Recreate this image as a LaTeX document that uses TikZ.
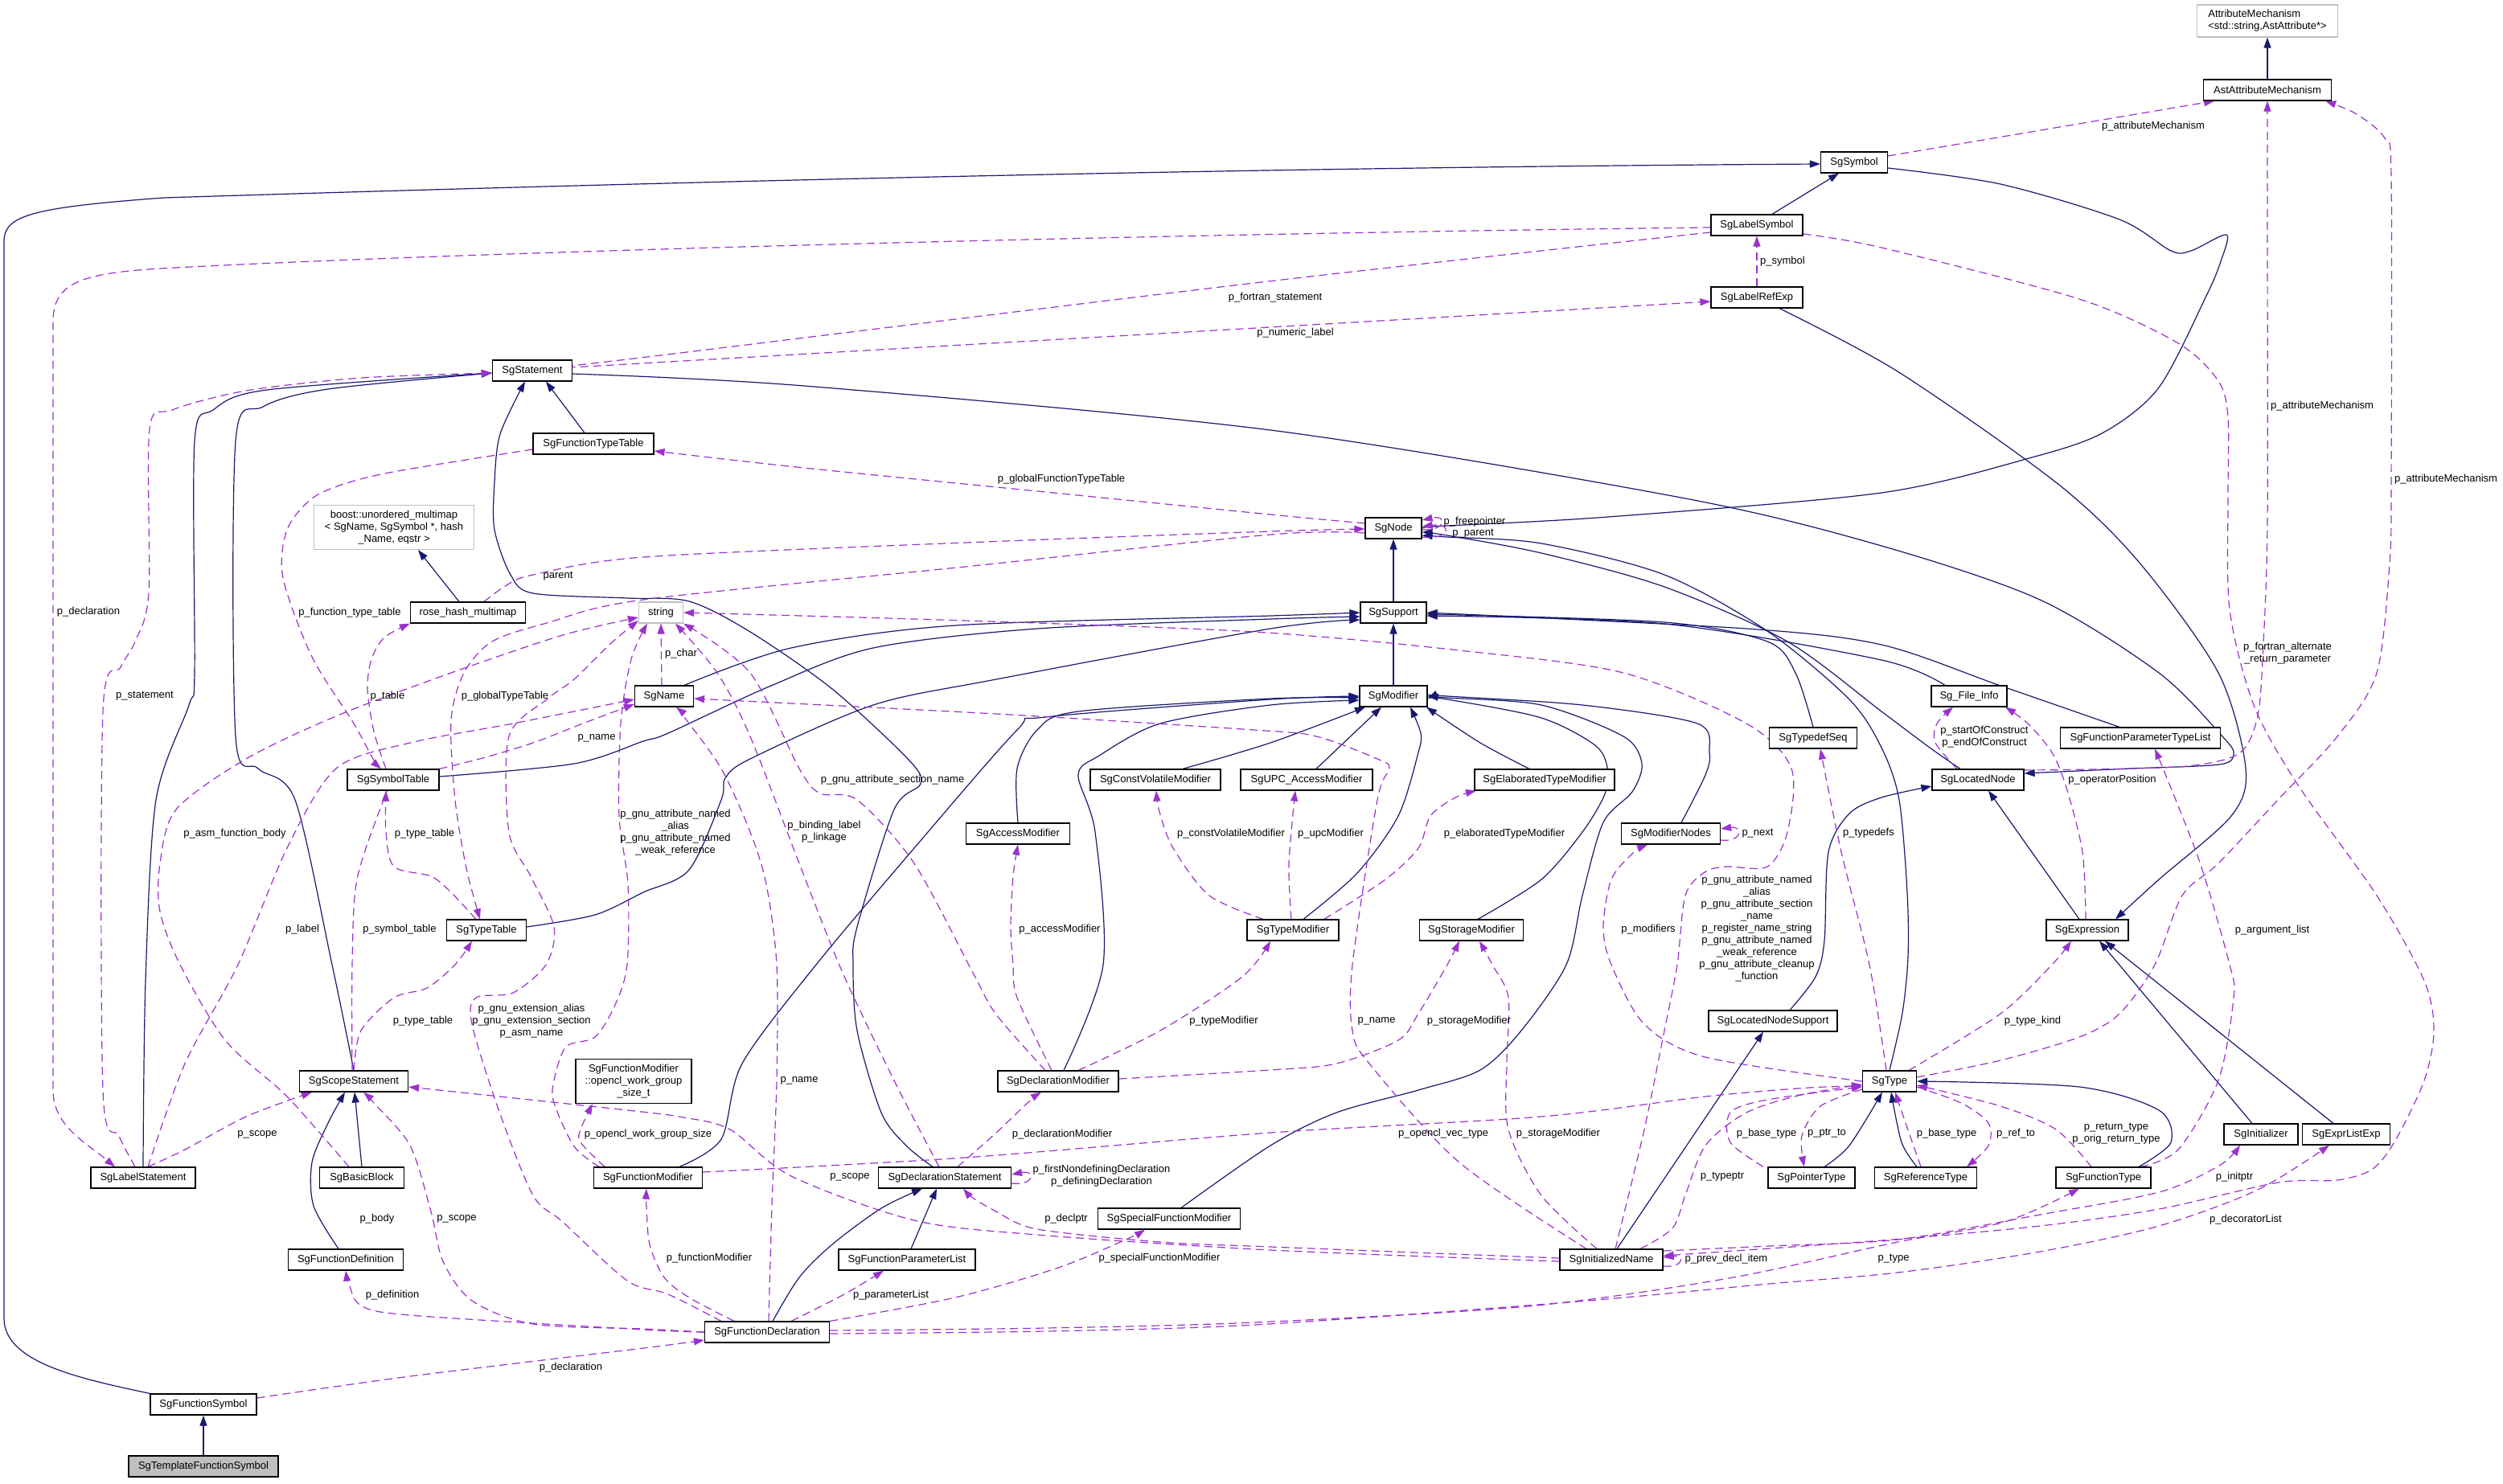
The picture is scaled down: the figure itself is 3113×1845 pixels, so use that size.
\documentclass[tikz,border=0pt]{standalone}
\usepackage{fontspec}
\setmainfont{Liberation Sans}
\usetikzlibrary{arrows.meta,calc}
\definecolor{navy}{HTML}{191970}
\definecolor{purp}{HTML}{9A32CD}
\definecolor{gbord}{HTML}{BFBFBF}
\newcommand\fs{\fontsize{13}{15}\selectfont}
\pgfdeclarelayer{bg}
\pgfsetlayers{bg,main}
\tikzset{
 cls/.style={draw=black, line width=1.2pt, fill=white, minimum height=26pt, inner sep=0pt, font=\fs, align=center},
 extcls/.style={cls, draw=gbord},
 inh/.style={draw=navy, line width=1.2pt, -{Triangle[length=13pt,width=9pt]}},
 usage/.style={draw=purp, line width=1.2pt, dash pattern=on 10pt off 6pt, -{Triangle[length=13pt,width=9pt]}},
 lbl/.style={font=\fs, inner sep=0pt, align=center, text=black},
}
\begin{document}
\begin{tikzpicture}[x=1pt,y=-1pt]
\useasboundingbox (0,0) rectangle (3113,1845);
% ---------------- classes
\node[extcls, minimum width=175pt, minimum height=40pt, align=left] (attrmech) at (2820,26) {AttributeMechanism\\<std::string,AstAttribute*>};
\node[cls, minimum width=159pt] (astattr) at (2820,112) {AstAttributeMechanism};
\node[cls, minimum width=83pt] (sgsymbol) at (2306,202) {SgSymbol};
\node[cls, minimum width=114pt] (labelsym) at (2185,280) {SgLabelSymbol};
\node[cls, minimum width=114pt] (labelref) at (2185,370) {SgLabelRefExp};
\node[cls, minimum width=99pt] (stmt) at (662,461) {SgStatement};
\node[cls, minimum width=150pt] (ftt) at (738,552) {SgFunctionTypeTable};
\node[cls, minimum width=70pt] (sgnode) at (1733,657) {SgNode};
\node[cls, minimum width=82pt] (support) at (1733,762) {SgSupport};
\node[cls, minimum width=84pt] (modifier) at (1733,866) {SgModifier};
\node[extcls, minimum width=199pt, minimum height=55pt] (boost) at (490,656) {boost::unordered\_multimap\\< SgName, SgSymbol *, hash\\\_Name, eqstr >};
\node[cls, minimum width=143pt] (rosehash) at (582,762) {rose\_hash\_multimap};
\node[extcls, minimum width=55pt] (string) at (822,762) {string};
\node[cls, minimum width=73pt] (sgname) at (826,866) {SgName};
\node[cls, minimum width=114pt] (symtab) at (489,970) {SgSymbolTable};
\node[cls, minimum width=99pt] (typetab) at (605,1157) {SgTypeTable};
\node[cls, minimum width=162pt] (cvmod) at (1437,970) {SgConstVolatileModifier};
\node[cls, minimum width=129pt] (accmod) at (1266,1037) {SgAccessModifier};
\node[cls, minimum width=164pt] (upcmod) at (1625,970) {SgUPC\_AccessModifier};
\node[cls, minimum width=114pt] (typemod) at (1608,1157) {SgTypeModifier};
\node[cls, minimum width=174pt] (elabmod) at (1921,970) {SgElaboratedTypeModifier};
\node[cls, minimum width=129pt] (stormod) at (1830,1157) {SgStorageModifier};
\node[cls, minimum width=123pt] (modnodes) at (2078,1037) {SgModifierNodes};
\node[cls, minimum width=109pt] (typedefseq) at (2255,918) {SgTypedefSeq};
\node[cls, minimum width=94pt] (fileinfo) at (2449,866) {Sg\_File\_Info};
\node[cls, minimum width=199pt] (fptl) at (2662,918) {SgFunctionParameterTypeList};
\node[cls, minimum width=114pt] (locnode) at (2460,970) {SgLocatedNode};
\node[cls, minimum width=102pt] (expr) at (2596,1157) {SgExpression};
\node[cls, minimum width=144pt, minimum height=55pt] (openclbox) at (788,1345) {SgFunctionModifier\\::opencl\_work\_group\\\_size\_t};
\node[cls, minimum width=135pt] (scopestmt) at (440,1345) {SgScopeStatement};
\node[cls, minimum width=130pt] (labelstmt) at (178,1465) {SgLabelStatement};
\node[cls, minimum width=105pt] (basicblock) at (450,1465) {SgBasicBlock};
\node[cls, minimum width=143pt] (funcdef) at (430,1567) {SgFunctionDefinition};
\node[cls, minimum width=132pt] (funcsym) at (253,1747) {SgFunctionSymbol};
\node[cls, fill=gbord, minimum width=186pt] (tmplsym) at (253,1824) {SgTemplateFunctionSymbol};
\node[cls, minimum width=135pt] (funcmod) at (806,1465) {SgFunctionModifier};
\node[cls, minimum width=150pt] (declmod) at (1316,1345) {SgDeclarationModifier};
\node[cls, minimum width=165pt] (declstmt) at (1175,1465) {SgDeclarationStatement};
\node[cls, minimum width=170pt] (fparamlist) at (1128,1567) {SgFunctionParameterList};
\node[cls, minimum width=177pt] (specfuncmod) at (1454,1516) {SgSpecialFunctionModifier};
\node[cls, minimum width=155pt] (funcdecl) at (954,1657) {SgFunctionDeclaration};
\node[cls, minimum width=160pt] (locnodesupp) at (2205,1270) {SgLocatedNodeSupport};
\node[cls, minimum width=67pt] (sgtype) at (2350,1345) {SgType};
\node[cls, minimum width=108pt] (ptrtype) at (2253,1465) {SgPointerType};
\node[cls, minimum width=127pt] (reftype) at (2395,1465) {SgReferenceType};
\node[cls, minimum width=118pt] (functype) at (2616,1465) {SgFunctionType};
\node[cls, minimum width=92pt] (initializer) at (2812,1411) {SgInitializer};
\node[cls, minimum width=109pt] (exprlist) at (2918,1411) {SgExprListExp};
\node[cls, minimum width=128pt] (initname) at (2004,1567) {SgInitializedName};

\begin{pgfonlayer}{bg}
\fill[white] (0,0) rectangle (3113,1845);
% ---------------- inheritance
\draw[inh] (astattr.north) -- (attrmech.south);
\draw[inh] ([xshift=19pt]labelsym.north) -- ([xshift=-19pt]sgsymbol.south);
\draw[inh] (funcsym.north west) .. controls (100,1715) and (5,1695) .. (5,1640) -- (5,300) .. controls (5,268) and (40,258) .. (204,246) .. controls (900,224) and (1600,208) .. ([yshift=-2pt]sgsymbol.west);
\draw[inh] (tmplsym.north) -- (funcsym.south);
\draw[inh] plot[smooth,tension=0.5] coordinates {([yshift=-7pt]sgsymbol.east) (2488,229) (2636,273) (2700,312) (2725,312) (2769,292) (2762,325) (2744,368) (2685,482) (2616,538) (2527,569) (2340,613) (2000,643) (1800,654) ([yshift=2pt]sgnode.east)};
\draw[inh] (support.north) -- (sgnode.south);
\draw[inh] (modifier.north) -- (support.south);
\draw[inh] plot[smooth,tension=0.5] coordinates {([xshift=-22pt]locnode.north) (2400,930) (2340,885) (2223,798) (2070,730) (1917,688) (1800,666) ([yshift=-5pt]sgnode.east)};
\draw[inh] plot[smooth,tension=0.5] coordinates {(sgtype.north) (2366,1260) (2373,1190) (2372,1110) (2362,995) (2340,930) (2300,870) (2198,785) (2070,715) (1917,676) (1800,668) ([yshift=-9pt]sgnode.east)};
\draw[inh] plot[smooth,tension=0.5] coordinates {([yshift=-4pt]stmt.east) (1000,480) (1580,535) (2096,620) (2340,679) (2537,746) (2685,837) (2764,916) (2778,938) (2760,951) (2650,956) ([yshift=8pt]locnode.east)};
\draw[inh] plot[smooth,tension=0.5] coordinates {([xshift=21pt]locnodesupp.north) (2258,1215) (2269,1170) (2274,1060) (2300,1012) (2340,992) ([yshift=-8pt]locnode.west)};
\draw[inh] ([xshift=-10pt]expr.north) -- ([xshift=13pt]locnode.south);
\draw[inh] plot[smooth,tension=0.5] coordinates {([xshift=28pt]labelref.south) (2360,462) (2557,600) (2660,699) (2759,837) (2793,956) (2775,1015) (2685,1094) ([xshift=35pt]expr.north)};
\draw[inh] ([xshift=-11pt]initializer.north) -- ([xshift=15pt]expr.south);
\draw[inh] ([xshift=-16pt]exprlist.north) -- ([xshift=22pt]expr.south);
\draw[inh] plot[smooth,tension=0.5] coordinates {([xshift=16pt]ptrtype.north) (2300,1425) ([xshift=-9pt]sgtype.south)};
\draw[inh] plot[smooth,tension=0.5] coordinates {([xshift=-11pt]reftype.north) (2365,1421) ([xshift=2pt]sgtype.south)};
\draw[inh] plot[smooth,tension=0.5] coordinates {([xshift=44pt]functype.north) (2700,1421) (2685,1381) (2586,1352) (sgtype.east)};
\draw[inh] ([xshift=7pt]initname.north) -- ([xshift=-12pt]locnodesupp.south);
\draw[inh] plot[smooth,tension=0.5] coordinates {(scopestmt.north) (413,1200) (367,995) (321,956) (293,916) (293,549) (327,506) (408,484) ([yshift=-3pt]stmt.west)};
\draw[inh] plot[smooth,tension=0.5] coordinates {(labelstmt.north) (181,1220) (194,995) (235,877) (242,837) (242,549) (265,510) (332,485) ([yshift=-3pt]stmt.west)};
\draw[inh] ([xshift=-11pt]ftt.north) -- ([xshift=17pt]stmt.south);
\draw[inh] plot[smooth,tension=0.5] coordinates {([xshift=-15pt]declstmt.north) (1127,1425) (1096,1384) (1066,1282) (1061,1200) (1066,1153) (1112,1007) (1145,975) (1130,945) (1035,857) (933,786) (857,748) (780,744) (663,738) (635,715) (615,659) (615,600) (622,540) ([xshift=-9pt]stmt.south)};
\draw[inh] (basicblock.north) -- ([xshift=1pt]scopestmt.south);
\draw[inh] plot[smooth,tension=0.5] coordinates {([xshift=-9pt]funcdef.north) (390,1500) (388,1446) (408,1397) ([xshift=-11pt]scopestmt.south)};
\draw[inh] plot[smooth,tension=0.5] coordinates {([xshift=7pt]funcdecl.north) (994,1589) (1035,1548) (1096,1503) ([xshift=-28pt]declstmt.south)};
\draw[inh] ([xshift=5pt]fparamlist.north) -- ([xshift=-10pt]declstmt.south);
\draw[inh] ([xshift=-11pt]rosehash.north) -- ([xshift=30pt]boost.south);
\draw[inh] plot[smooth,tension=0.5] coordinates {([xshift=25pt]sgname.north) (984,806) (1188,778) (1580,766) (support.west)};
\draw[inh] plot[smooth,tension=0.5] coordinates {([yshift=4pt]symtab.east) (714,950) (800,922) (831,912) (959,853) (1086,806) (1290,782) (1580,770) ([yshift=-5pt]support.west)};
\draw[inh] plot[smooth,tension=0.5] coordinates {([yshift=4pt]typetab.east) (740,1138) (800,1110) (857,1082) (897,995) (902,968) (933,944) (1086,877) (1239,845) (1580,782) ([yshift=-9pt]support.west)};
\draw[inh] plot[smooth,tension=0.5] coordinates {(typedefseq.north) (2233,837) (2198,798) (2070,774) ([yshift=-2pt]support.east)};
\draw[inh] plot[smooth,tension=0.5] coordinates {([xshift=-30pt]fileinfo.north) (2340,821) (2070,776) ([yshift=-4pt]support.east)};
\draw[inh] plot[smooth,tension=0.5] coordinates {([xshift=-26pt]fptl.north) (2488,853) (2340,802) (2172,782) (support.east)};
\draw[inh] plot[smooth,tension=0.5] coordinates {(accmod.north) (1265,956) (1290,908) (1341,885) (1580,869) ([yshift=-2pt]modifier.west)};
\draw[inh] plot[smooth,tension=0.5] coordinates {([xshift=39pt]funcmod.north) (897,1417) (923,1323) (1015,1200) (1137,1055) (1265,908) (1300,892) (1580,870) (modifier.west)};
\draw[inh] plot[smooth,tension=0.5] coordinates {([xshift=7pt]declmod.north) (1372,1200) (1362,1035) (1341,964) (1367,940) (1443,900) (1580,877) ([yshift=-5pt]modifier.west)};
\draw[inh] plot[smooth,tension=0.5] coordinates {([xshift=34pt]cvmod.north) (1580,924) ([xshift=-35pt]modifier.south)};
\draw[inh] ([xshift=12pt]upcmod.north) -- ([xshift=-15pt]modifier.south);
\draw[inh] plot[smooth,tension=0.5] coordinates {([xshift=13pt]typemod.north) (1688,1086) (1739,1015) (1764,936) (1767,912) ([xshift=21pt]modifier.south)};
\draw[inh] plot[smooth,tension=0.5] coordinates {([xshift=-19pt]elabmod.north) (1841,924) ([xshift=41pt]modifier.south)};
\draw[inh] plot[smooth,tension=0.5] coordinates {([xshift=8pt]stormod.north) (1917,1094) (1968,1035) (1995,990) (2000,960) (1985,928) (1917,893) (1800,870) ([yshift=-3pt]modifier.east)};
\draw[inh] plot[smooth,tension=0.5] coordinates {([xshift=15pt]specfuncmod.north) (1580,1425) (1662,1384) (1764,1356) (1841,1331) (1892,1282) (1948,1200) (1968,1114) (1994,1023) (2030,985) (2042,950) (2019,916) (1917,877) (1800,868) (modifier.east)};
\draw[inh] plot[smooth,tension=0.5] coordinates {([xshift=13pt]modnodes.north) (2121,964) (2126,936) (2111,900) (1968,877) (1800,866) ([yshift=2pt]modifier.east)};
% ---------------- usage
\draw[usage] ([yshift=8pt]sgsymbol.east) -- ([xshift=-66pt]astattr.south);
\draw[usage] plot[smooth,tension=0.5] coordinates {([yshift=12pt]locnode.east) (2600,957) (2720,953) (2785,937) (2808,890) (2815,800) (2820,650) (2820,300) (astattr.south)};
\draw[usage] plot[smooth,tension=0.5] coordinates {([yshift=5pt]sgtype.east) (2488,1319) (2586,1290) (2636,1261) (2680,1200) (2714,1114) (2759,1074) (2833,995) (2907,916) (2956,837) (2972,700) (2974,600) (2974,220) (2966,172) (2931,142) ([xshift=-8pt]astattr.south east)};
\draw[usage] plot[smooth,tension=0.5] coordinates {([yshift=-11pt]labelsym.east) (2340,308) (2586,372) (2709,427) (2759,474) (2771,520) (2771,620) (2773,758) (2803,877) (2857,975) (2956,1114) (3015,1220) (3027,1282) (3015,1344) (2980,1417) (2951,1454) (2907,1468) (2833,1471) (2685,1504) (2537,1525) (2340,1543) ([yshift=5pt]initname.east)};
\draw[usage] plot[smooth,tension=0.5] coordinates {([yshift=-9pt]labelsym.west) (1560,352) (780,447) ([yshift=8pt]stmt.east)};
\draw[usage] plot[smooth,tension=0.5] coordinates {([yshift=4pt]stmt.east) (780,453) (1580,407) ([yshift=-5pt]labelref.west)};
\draw[usage] (labelref.north) -- (labelsym.south);
\draw[usage] ([yshift=-3pt]labelsym.west) .. controls (1500,290) and (600,312) .. (200,334) .. controls (100,340) and (66,352) .. (66,400) -- (66,1356) .. controls (66,1400) and (105,1420) .. ([xshift=-35pt]labelstmt.north);
\draw[usage] plot[smooth,tension=0.5] coordinates {([xshift=-10pt]labelstmt.north) (148,1413) (128,1356) (128,885) (150,830) (168,798) (185,738) (186,534) (214,510) (306,486) (450,470) ([yshift=-3pt]stmt.west)};
\draw[usage] plot[smooth,tension=0.5] coordinates {([xshift=6pt]labelstmt.north) (230,1323) (296,1200) (357,1055) (418,956) (510,924) (638,900) ([yshift=-4pt]sgname.west)};
\draw[usage] plot[smooth,tension=0.5] coordinates {([xshift=6pt]labelstmt.north) (230,1430) (306,1389) ([xshift=-52pt]scopestmt.south)};
\draw[usage] plot[smooth,tension=0.5] coordinates {([xshift=-16pt]basicblock.north) (357,1364) (281,1295) (224,1200) (199,1134) (199,1074) (219,1007) (306,944) (420,890) (561,837) (700,790) ([yshift=-6pt]string.west)};
\draw[usage] plot[smooth,tension=0.5] coordinates {([yshift=-7pt]ftt.west) (500,585) (434,600) (388,620) (357,659) (352,719) (388,817) (440,900) (464,944) ([xshift=-15pt]symtab.north)};
\draw[usage] plot[smooth,tension=0.5] coordinates {([xshift=-9pt]symtab.north) (465,910) (457,857) (462,820) (478,793) (rosehash.south west)};
\draw[usage] plot[smooth,tension=0.5] coordinates {([xshift=20pt]rosehash.north) (630,728) (663,715) (800,693) (1200,675) (1580,661) ([yshift=-1pt]sgnode.west)};
\draw[usage] plot[smooth,tension=0.5] coordinates {([yshift=6pt]sgnode.west) (1580,640) (1300,612) (1000,582) ([yshift=-9pt]ftt.east)};
\draw[usage] plot[smooth,tension=0.5] coordinates {([yshift=-6pt]sgnode.west) (1580,665) (1200,705) (800,746) (680,775) (612,798) (577,837) (561,896) (566,995) (580,1080) ([xshift=-8pt]typetab.north)};
\draw[usage] plot[smooth,tension=0.5] coordinates {(symtab.north east) (600,943) (663,924) (730,898) ([yshift=-10pt]sgname.west)};
\draw[usage] plot[smooth,tension=0.5] coordinates {([xshift=-13pt]typetab.north) (561,1110) (536,1090) (490,1078) (480,1035) ([xshift=-9pt]symtab.south)};
\draw[usage] plot[smooth,tension=0.5] coordinates {([xshift=-2pt]scopestmt.north) (438,1200) (444,1094) (477,995) ([xshift=-5pt]symtab.south)};
\draw[usage] plot[smooth,tension=0.5] coordinates {(scopestmt.north) (449,1282) (490,1241) (531,1229) (566,1200) ([xshift=-18pt]typetab.south)};
\draw[usage] ([xshift=-3pt]sgname.north) -- (string.south);
\draw[usage] plot[smooth,tension=0.5] coordinates {([xshift=-57pt]funcdecl.north) (831,1610) (780,1593) (700,1520) (663,1487) (620,1380) (587,1274) (592,1241) (638,1235) (679,1200) (689,1153) (660,1090) (633,1035) (633,916) (680,870) (714,845) (760,800) ([yshift=-10pt]string.west)};
\draw[usage] plot[smooth,tension=0.5] coordinates {([xshift=-61pt]funcmod.north) (714,1426) (689,1372) (689,1344) (704,1302) (740,1290) (765,1250) (780,1200) (781,1100) (770,1015) (772,900) (785,820) ([xshift=-17pt]string.south)};
\draw[usage] plot[smooth,tension=0.5] coordinates {([xshift=-54pt]funcmod.north) (722,1421) (722,1405) ([xshift=-51pt]openclbox.south)};
\draw[usage] plot[smooth,tension=0.5] coordinates {([yshift=7pt]funcmod.east) (1200,1440) (1580,1409) (1917,1389) (2121,1364) (2250,1353) ([yshift=-6pt]sgtype.west)};
\draw[usage] plot[smooth,tension=0.5] coordinates {([xshift=2pt]funcdecl.north) (960,1500) (966,1344) (966,1200) (953,1100) (933,1035) (897,956) (851,892) ([xshift=15pt]sgname.south)};
\draw[usage] plot[smooth,tension=0.5] coordinates {(funcdecl.west) (800,1653) (663,1647) (587,1618) (551,1569) (536,1507) (510,1425) (465,1372) ([xshift=12pt]scopestmt.south)};
\draw[usage] plot[smooth,tension=0.5] coordinates {(funcdecl.west) (800,1654) (510,1636) (449,1624) (434,1597) (funcdef.south)};
\draw[usage] plot[smooth,tension=0.5] coordinates {([yshift=8pt]funcsym.east) (510,1712) (800,1677) ([yshift=-10pt]funcdecl.west)};
\draw[usage] plot[smooth,tension=0.5] coordinates {([xshift=-41pt]funcdecl.north) (857,1614) (826,1589) (808,1548) (804,1500) ([xshift=-2pt]funcmod.south)};
\draw[usage] plot[smooth,tension=0.5] coordinates {([xshift=30pt]funcdecl.north) (1050,1610) ([xshift=-29pt]fparamlist.south)};
\draw[usage] plot[smooth,tension=0.5] coordinates {(funcdecl.north east) (1188,1614) (1316,1577) (1400,1542) ([xshift=-30pt]specfuncmod.south)};
\draw[usage] plot[smooth,tension=0.5] coordinates {([yshift=2pt]funcdecl.east) (1300,1652) (1560,1645) (1900,1625) (2150,1590) (2360,1545) (2493,1520) ([xshift=-30pt]functype.south)};
\draw[usage] plot[smooth,tension=0.5] coordinates {([yshift=-2pt]funcdecl.east) (1300,1656) (1560,1648) (1950,1620) (2200,1597) (2360,1583) (2537,1557) (2685,1525) (2808,1480) ([xshift=-21pt]exprlist.south)};
\draw[usage] plot[smooth,tension=0.5] coordinates {([yshift=11pt]initname.east) (2200,1550) (2360,1542) (2537,1511) (2685,1483) (2760,1450) ([xshift=-26pt]initializer.south)};
\draw[usage] plot[smooth,tension=0.5] coordinates {([xshift=36pt]initname.north) (2080,1528) (2096,1487) (2121,1425) (2172,1384) (2240,1362) ([yshift=-4pt]sgtype.west)};
\draw[usage] ([yshift=-8pt]initname.east) .. controls (2095,1577) and (2095,1561) .. ([yshift=3pt]initname.east);
\draw[usage] plot[smooth,tension=0.5] coordinates {([xshift=-18pt]initname.north) (1917,1487) (1876,1405) (1874,1323) (1876,1241) (1856,1200) ([xshift=10pt]stormod.south)};
\draw[usage] plot[smooth,tension=0.5] coordinates {([yshift=3pt]declmod.east) (1580,1331) (1662,1323) (1739,1294) (1764,1261) (1800,1200) ([xshift=-15pt]stormod.south)};
\draw[usage] plot[smooth,tension=0.5] coordinates {([xshift=-31pt]initname.north) (1815,1446) (1703,1323) (1682,1282) (1682,1200) (1713,995) (1728,956) (1713,944) (1637,916) (1560,908) (1239,888) ([yshift=-3pt]sgname.east)};
\draw[usage] plot[smooth,tension=0.5] coordinates {([xshift=5pt]initname.north) (2045,1405) (2070,1282) (2086,1200) (2096,1114) (2120,1085) (2147,1078) (2198,1078) (2223,1035) (2228,956) (2172,900) (2019,837) (1815,809) (1560,786) (1200,772) (string.east)};
\draw[usage] plot[smooth,tension=0.5] coordinates {([yshift=2pt]initname.west) (1580,1551) (1443,1545) (1290,1529) (1239,1507) (1210,1490) ([xshift=23pt]declstmt.south)};
\draw[usage] plot[smooth,tension=0.5] coordinates {([yshift=-2pt]initname.west) (1580,1555) (1290,1536) (1137,1518) (984,1463) (908,1405) (850,1390) (780,1381) ([yshift=-7pt]scopestmt.east)};
\draw[usage] plot[smooth,tension=0.5] coordinates {([xshift=16pt]declstmt.north) (1239,1409) (1280,1370) ([xshift=-21pt]declmod.south)};
\draw[usage] ([yshift=-7pt]declstmt.east) .. controls (1288,1475) and (1288,1455) .. ([yshift=4pt]declstmt.east);
\draw[usage] plot[smooth,tension=0.5] coordinates {([xshift=-7pt]declstmt.north) (1112,1344) (1048,1210) (994,1074) (933,916) (892,837) ([xshift=18pt]string.south)};
\draw[usage] plot[smooth,tension=0.5] coordinates {([xshift=-16pt]declmod.north) (1239,1262) (1210,1210) (1137,1074) (1066,995) (1020,987) (994,956) (933,837) (string.south east)};
\draw[usage] plot[smooth,tension=0.5] coordinates {([xshift=-8pt]declmod.north) (1265,1241) (1260,1200) (1257,1153) (1260,1090) (accmod.south)};
\draw[usage] plot[smooth,tension=0.5] coordinates {([xshift=25pt]declmod.north) (1443,1282) (1545,1215) ([xshift=-28pt]typemod.south)};
\draw[usage] plot[smooth,tension=0.5] coordinates {([xshift=-37pt]typemod.north) (1504,1114) (1459,1055) (1442,1010) ([xshift=1pt]cvmod.south)};
\draw[usage] plot[smooth,tension=0.5] coordinates {([xshift=-2pt]typemod.north) (1603,1074) ([xshift=-14pt]upcmod.south)};
\draw[usage] plot[smooth,tension=0.5] coordinates {([xshift=39pt]typemod.north) (1723,1094) (1764,1055) (1779,1015) (1810,992) ([xshift=-85pt]elabmod.south)};
\draw[usage] ([yshift=-8pt]modnodes.east) .. controls (2168,1048) and (2168,1027) .. ([yshift=6pt]modnodes.east);
\draw[usage] plot[smooth,tension=0.5] coordinates {(sgtype.west) (2121,1315) (2045,1274) (2004,1200) (1994,1153) (2004,1094) (2030,1062) ([xshift=-29pt]modnodes.south)};
\draw[usage] plot[smooth,tension=0.5] coordinates {([xshift=-4pt]sgtype.north) (2325,1200) (2290,1060) ([xshift=9pt]typedefseq.south)};
\draw[usage] plot[smooth,tension=0.5] coordinates {([xshift=24pt]sgtype.north) (2488,1261) (2552,1200) ([xshift=-20pt]expr.south)};
\draw[usage] plot[smooth,tension=0.5] coordinates {([xshift=-60pt]ptrtype.north) (2152,1421) (2152,1384) (2198,1368) ([yshift=-7pt]sgtype.west)};
\draw[usage] plot[smooth,tension=0.5] coordinates {([yshift=-10pt]sgtype.west) (2264,1376) (2241,1413) ([xshift=-9pt]ptrtype.north)};
\draw[usage] plot[smooth,tension=0.5] coordinates {([xshift=-6pt]reftype.north) (2370,1397) ([xshift=7pt]sgtype.south)};
\draw[usage] plot[smooth,tension=0.5] coordinates {([yshift=-7pt]sgtype.east) (2439,1372) (2473,1397) (2473,1425) ([xshift=51pt]reftype.north)};
\draw[usage] plot[smooth,tension=0.5] coordinates {([xshift=-15pt]functype.north) (2557,1405) (2488,1376) ([yshift=-5pt]sgtype.east)};
\draw[usage] plot[smooth,tension=0.5] coordinates {([xshift=46pt]functype.north) (2709,1430) (2759,1344) (2778,1241) (2773,1200) (2735,1070) ([xshift=18pt]fptl.south)};
\draw[usage] plot[smooth,tension=0.5] coordinates {([xshift=-2pt]expr.north) (2590,1060) (2570,980) (2552,936) (2522,900) ([xshift=45pt]fileinfo.south)};
\draw[usage] plot[smooth,tension=0.5] coordinates {([xshift=-26pt]locnode.north) (2407,924) (2409,900) ([xshift=-20pt]fileinfo.south)};
\draw[usage] ([yshift=-2pt]sgnode.east) .. controls (1800,660) and (1800,640) .. ([yshift=10pt]sgnode.east);
\draw[usage] ([yshift=-11pt]sgnode.east) .. controls (1806,672) and (1806,650) .. ([yshift=2pt]sgnode.east);
\end{pgfonlayer}

% ---------------- labels
\node[lbl] (t1) at (2678,157) {p\_attributeMechanism};
\node[lbl] (t2) at (2888,505) {p\_attributeMechanism};
\node[lbl] (t3) at (3042,596) {p\_attributeMechanism};
\node[lbl] (t4) at (1586,370) {p\_fortran\_statement};
\node[lbl] (t5) at (1611,414) {p\_numeric\_label};
\node[lbl] (t6) at (2217,325) {p\_symbol};
\node[lbl] (t7) at (110,761) {p\_declaration};
\node[lbl] (t8) at (180,866) {p\_statement};
\node[lbl] (t9) at (2845,813) {p\_fortran\_alternate\\\_return\_parameter};
\node[lbl] (t10) at (1320,596) {p\_globalFunctionTypeTable};
\node[lbl] (t11) at (694,717) {parent};
\node[lbl] (t12) at (435,762) {p\_function\_type\_table};
\node[lbl] (t13) at (482,866) {p\_table};
\node[lbl] (t14) at (628,866) {p\_globalTypeTable};
\node[lbl] (t15) at (742,918) {p\_name};
\node[lbl] (t16) at (292,1037) {p\_asm\_function\_body};
\node[lbl] (t17) at (528,1037) {p\_type\_table};
\node[lbl] (t18) at (376,1156) {p\_label};
\node[lbl] (t19) at (497,1156) {p\_symbol\_table};
\node[lbl] (t20) at (847,813) {p\_char};
\node[lbl] (t21) at (840,1036) {p\_gnu\_attribute\_named\\\_alias\\p\_gnu\_attribute\_named\\\_weak\_reference};
\node[lbl] (t22) at (1025,1035) {p\_binding\_label\\p\_linkage};
\node[lbl] (t23) at (1110,970) {p\_gnu\_attribute\_section\_name};
\node[lbl] (t24) at (1318,1156) {p\_accessModifier};
\node[lbl] (t25) at (1531,1037) {p\_constVolatileModifier};
\node[lbl] (t26) at (1655,1037) {p\_upcModifier};
\node[lbl] (t27) at (1871,1037) {p\_elaboratedTypeModifier};
\node[lbl] (t28) at (2186,1037) {p\_next};
\node[lbl] (t29) at (2324,1036) {p\_typedefs};
\node[lbl] (t30) at (2050,1156) {p\_modifiers};
\node[lbl] (t31) at (2185,1155) {p\_gnu\_attribute\_named\\\_alias\\p\_gnu\_attribute\_section\\\_name\\p\_register\_name\_string\\p\_gnu\_attribute\_named\\\_weak\_reference\\p\_gnu\_attribute\_cleanup\\\_function};
\node[lbl] (t32) at (2468,917) {p\_startOfConstruct\\p\_endOfConstruct};
\node[lbl] (t33) at (2627,970) {p\_operatorPosition};
\node[lbl] (t34) at (2826,1157) {p\_argument\_list};
\node[lbl] (t35) at (2528,1270) {p\_type\_kind};
\node[lbl] (t36) at (1834,649) {p\_freepointer};
\node[lbl] (t37) at (1832,664) {p\_parent};
\node[lbl] (t38) at (526,1270) {p\_type\_table};
\node[lbl] (t39) at (661,1270) {p\_gnu\_extension\_alias\\p\_gnu\_extension\_section\\p\_asm\_name};
\node[lbl] (t40) at (994,1344) {p\_name};
\node[lbl] (t41) at (1522,1270) {p\_typeModifier};
\node[lbl] (t42) at (1712,1270) {p\_name};
\node[lbl] (t43) at (1827,1270) {p\_storageModifier};
\node[lbl] (t44) at (320,1411) {p\_scope};
\node[lbl] (t45) at (806,1411) {p\_opencl\_work\_group\_size};
\node[lbl] (t46) at (1321,1411) {p\_declarationModifier};
\node[lbl] (t47) at (1795,1410) {p\_opencl\_vec\_type};
\node[lbl] (t48) at (1938,1410) {p\_storageModifier};
\node[lbl] (t49) at (2197,1410) {p\_base\_type};
\node[lbl] (t50) at (2272,1410) {p\_ptr\_to};
\node[lbl] (t51) at (2421,1410) {p\_base\_type};
\node[lbl] (t52) at (2507,1410) {p\_ref\_to};
\node[lbl] (t53) at (2632,1410) {p\_return\_type\\p\_orig\_return\_type};
\node[lbl] (t54) at (1057,1464) {p\_scope};
\node[lbl] (t55) at (1370,1463) {p\_firstNondefiningDeclaration\\p\_definingDeclaration};
\node[lbl] (t56) at (2142,1464) {p\_typeptr};
\node[lbl] (t57) at (2779,1464) {p\_initptr};
\node[lbl] (t58) at (469,1516) {p\_body};
\node[lbl] (t59) at (568,1516) {p\_scope};
\node[lbl] (t60) at (1326,1516) {p\_declptr};
\node[lbl] (t61) at (2793,1517) {p\_decoratorList};
\node[lbl] (t62) at (882,1565) {p\_functionModifier};
\node[lbl] (t63) at (1442,1565) {p\_specialFunctionModifier};
\node[lbl] (t64) at (2147,1566) {p\_prev\_decl\_item};
\node[lbl] (t65) at (2355,1566) {p\_type};
\node[lbl] (t66) at (488,1611) {p\_definition};
\node[lbl] (t67) at (1108,1611) {p\_parameterList};
\node[lbl] (t68) at (710,1701) {p\_declaration};
\end{tikzpicture}
\end{document}
